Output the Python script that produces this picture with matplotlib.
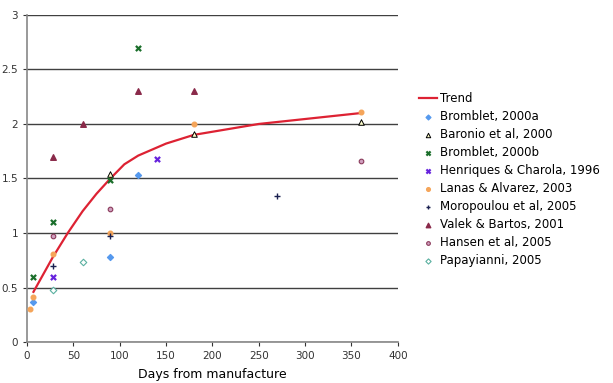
import matplotlib
matplotlib.use('Agg')
import matplotlib.pyplot as plt

# Trend line
trend_days = [7, 28, 44, 60, 75, 90, 105, 120, 150, 180, 250, 360]
trend_vals = [0.46, 0.78, 1.0, 1.2, 1.36, 1.5, 1.63, 1.71, 1.82, 1.9, 2.0, 2.1]

# Studies
bromblet_a_days = [7, 90, 120]
bromblet_a_vals = [0.37, 0.78, 1.53]
baronio_days = [90, 180, 360]
baronio_vals = [1.54, 1.91, 2.02]
bromblet_b_days = [7, 28, 90, 120]
bromblet_b_vals = [0.6, 1.1, 1.49, 2.7]
henriques_days = [28, 140]
henriques_vals = [0.6, 1.68]
lanas_days = [3, 7, 28, 90, 180, 360]
lanas_vals = [0.3, 0.41, 0.81, 1.0, 2.0, 2.11]
moropoulou_days = [28, 90, 270]
moropoulou_vals = [0.7, 0.97, 1.34]
valek_days = [28, 60, 120, 180]
valek_vals = [1.7, 2.0, 2.3, 2.3]
hansen_days = [28, 90, 360]
hansen_vals = [0.97, 1.22, 1.66]
papayianni_days = [28, 60]
papayianni_vals = [0.48, 0.73]

fig = plt.figure(figsize=(6.13, 3.83), dpi=100)
ax = fig.add_axes([0.044, 0.107, 0.605, 0.854])

ax.plot(trend_days, trend_vals, color='#dd2233', lw=1.6, label='Trend', zorder=3)
ax.scatter(bromblet_a_days, bromblet_a_vals, marker='D', s=9, color='#5599ee', label='Bromblet, 2000a', zorder=4)
ax.scatter(baronio_days, baronio_vals, marker='^', s=16, facecolor='#ffffcc', edgecolor='black', lw=0.7, label='Baronio et al, 2000', zorder=4)
ax.scatter(bromblet_b_days, bromblet_b_vals, marker='x', s=14, color='#1a6e2a', lw=1.6, label='Bromblet, 2000b', zorder=4)
ax.scatter(henriques_days, henriques_vals, marker='x', s=14, color='#6622dd', lw=1.6, label='Henriques & Charola, 1996', zorder=4)
ax.scatter(lanas_days, lanas_vals, marker='o', s=11, color='#f5a55a', label='Lanas & Alvarez, 2003', zorder=4)
ax.scatter(moropoulou_days, moropoulou_vals, marker='+', s=16, color='#1a2050', lw=1.0, label='Moropoulou et al, 2005', zorder=4)
ax.scatter(valek_days, valek_vals, marker='^', s=16, color='#8a2a4a', label='Valek & Bartos, 2001', zorder=4)
ax.scatter(hansen_days, hansen_vals, marker='o', s=11, facecolor='#d0a0c0', edgecolor='#8a3a5a', lw=0.8, label='Hansen et al, 2005', zorder=4)
ax.scatter(papayianni_days, papayianni_vals, marker='D', s=11, facecolor='white', edgecolor='#5ab0a0', lw=0.8, label='Papayianni, 2005', zorder=4)

ax.set_xlim(0, 400)
ax.set_ylim(0, 3)
ax.set_xticks(range(0, 401, 50))
ax.set_yticks([0, 0.5, 1, 1.5, 2, 2.5, 3])
ax.set_yticklabels(['0', '0.5', '1', '1.5', '2', '2.5', '3'])
ax.tick_params(labelsize=7.5, colors='#333333', length=3, width=0.8)
ax.yaxis.grid(True, color='#404040', lw=1.0)
ax.set_axisbelow(True)
for s in ['top', 'right']:
    ax.spines[s].set_visible(False)
for s in ['left', 'bottom']:
    ax.spines[s].set_color('#888888')
    ax.spines[s].set_linewidth(1.2)
ax.set_xlabel('Days from manufacture', fontsize=9, labelpad=5)

fig.legend(loc='upper left', bbox_to_anchor=(0.676, 0.772), frameon=False,
           fontsize=8.5, handlelength=1.5, handletextpad=0.3, labelspacing=0.42,
           borderaxespad=0, markerscale=0.8)

fig.savefig('out.png', dpi=100)
